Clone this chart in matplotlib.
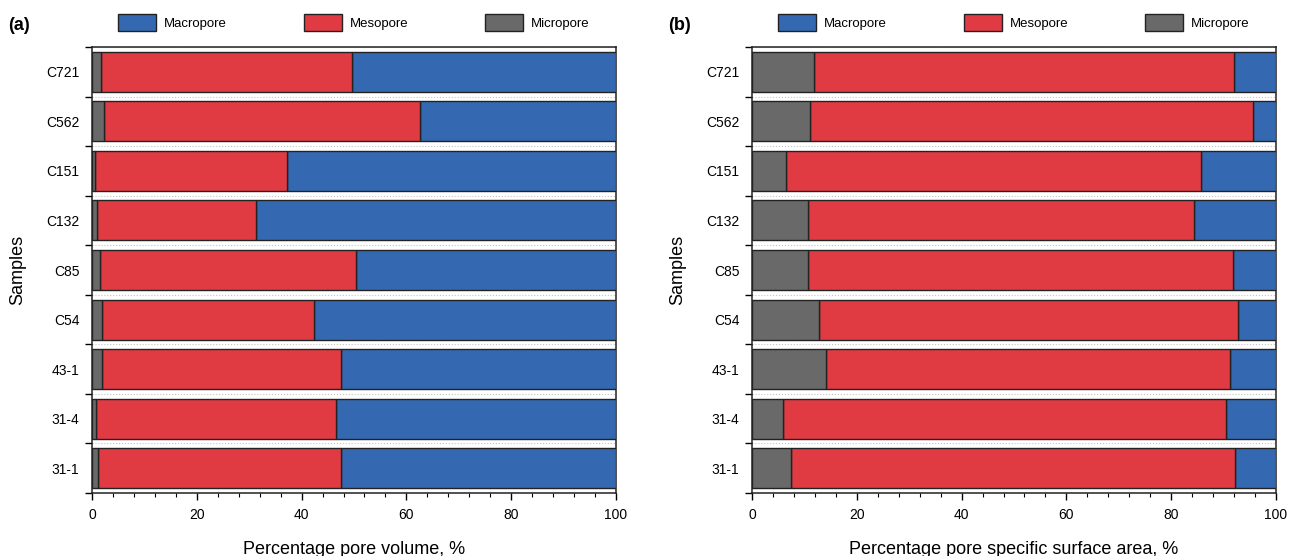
# -*- coding: utf-8 -*-

import numpy as np
import matplotlib
matplotlib.use("Agg")
import matplotlib.pyplot as plt
from matplotlib.ticker import MultipleLocator, FixedLocator, NullFormatter

plt.rcParams['font.family'] = ['Liberation Sans', 'DejaVu Sans']

# samples listed bottom -> top
samples = ["31-1", "31-4", "43-1", "C54", "C85", "C132", "C151", "C562", "C721"]

# pore volume fractions, %
vol_micro = [1.1, 0.8, 2.0, 2.0, 1.5, 0.9, 0.5, 2.2, 1.7]
vol_meso = [46.5, 45.8, 45.5, 40.3, 48.9, 30.4, 36.7, 60.4, 47.9]
vol_macro = [52.4, 53.4, 52.5, 57.7, 49.6, 68.7, 62.8, 37.4, 50.4]

# pore specific surface area fractions, %
ssa_micro = [7.5, 5.9, 14.1, 12.8, 10.6, 10.6, 6.5, 11.0, 11.8]
ssa_meso = [84.6, 84.5, 77.1, 79.9, 81.2, 73.8, 79.1, 84.7, 80.2]
ssa_macro = [7.9, 9.6, 8.8, 7.3, 8.2, 15.6, 14.4, 4.3, 8.0]

C_MACRO = '#3469B1'
C_MESO = '#E03A43'
C_MICRO = '#696969'


def stacked(ax, micro, meso, macro, xlabel):
    """draw one panel of stacked horizontal bars"""
    y = np.arange(len(samples))
    micro = np.array(micro)
    meso = np.array(meso)
    macro = np.array(macro)
    kw = dict(height=0.805, edgecolor='#222222', linewidth=1.0, zorder=3)
    ax.barh(y, macro, left=micro + meso, color=C_MACRO, label='Macropore', **kw)
    ax.barh(y, meso, left=micro, color=C_MESO, label='Mesopore', **kw)
    ax.barh(y, micro, color=C_MICRO, label='Micropore', **kw)

    ax.set_xlim(0, 100)
    ax.set_ylim(-0.5, len(samples) - 0.5)

    # ticks between bars, labels centred on bars
    ax.yaxis.set_major_locator(FixedLocator(np.arange(-0.5, len(samples), 1.0)))
    ax.yaxis.set_major_formatter(NullFormatter())
    ax.yaxis.set_minor_locator(FixedLocator(y))
    ax.set_yticklabels(samples, minor=True)
    ax.tick_params(axis='y', which='major', direction='out', length=5, width=1.0)
    ax.tick_params(axis='y', which='minor', length=0, pad=9, labelsize=10)

    ax.xaxis.set_major_locator(MultipleLocator(20))
    ax.xaxis.set_minor_locator(MultipleLocator(4))
    ax.tick_params(axis='x', which='major', direction='out', length=5, width=1.0,
                   pad=6, labelsize=10)
    ax.tick_params(axis='x', which='minor', direction='out', length=3, width=0.8)

    ax.grid(axis='y', which='major', color='#c4c4c4', linestyle=':', linewidth=0.8,
            zorder=1)
    for s in ax.spines.values():
        s.set_linewidth(1.1)
        s.set_color('#222222')

    ax.set_xlabel(xlabel, fontsize=13)
    ax.xaxis.set_label_coords(0.5, -0.107)
    ax.set_ylabel('Samples', fontsize=13)
    ax.yaxis.set_label_coords(-0.125, 0.5)

    ax.legend(loc='center', bbox_to_anchor=(0.5, 1.054), ncol=3, frameon=False,
              fontsize=9.5, handlelength=2.9, handleheight=1.6,
              handletextpad=0.6, columnspacing=5.8, borderaxespad=0)


fig = plt.figure(figsize=(12.89, 5.56), dpi=100)
ax1 = fig.add_axes([92 / 1289, 1 - 493 / 556, 524 / 1289, 446 / 556])
ax2 = fig.add_axes([752 / 1289, 1 - 493 / 556, 524 / 1289, 446 / 556])

stacked(ax1, vol_micro, vol_meso, vol_macro, 'Percentage pore volume, %')
stacked(ax2, ssa_micro, ssa_meso, ssa_macro,
        'Percentage pore specific surface area, %')

fig.text(8 / 1289, 1 - 25 / 556, '(a)', fontsize=13, fontweight='bold', va='center')
fig.text(668 / 1289, 1 - 25 / 556, '(b)', fontsize=13, fontweight='bold', va='center')

fig.savefig('out.png', dpi=100)
